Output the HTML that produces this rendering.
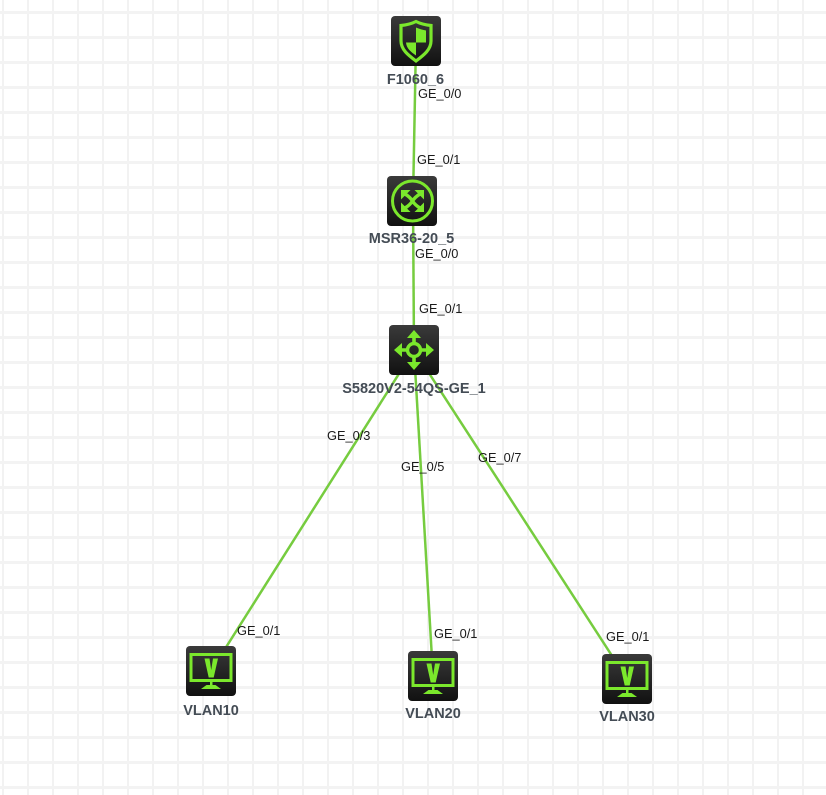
<!DOCTYPE html>
<html>
<head>
<meta charset="utf-8">
<style>
html,body{margin:0;padding:0;background:#fff}
svg{display:block}
.p{font:12.8px "Liberation Sans",Arial,sans-serif;fill:#1a1a1a}
.n{font:bold 14.5px "Liberation Sans",Arial,sans-serif;fill:#444c55;text-anchor:middle}
</style>
</head>
<body>
<svg width="826" height="795" viewBox="0 0 826 795" xmlns="http://www.w3.org/2000/svg">
<defs>
<pattern id="grid" width="25" height="25" patternUnits="userSpaceOnUse">
<rect x="2" y="0" width="2" height="25" fill="#f2f2f2"/>
<rect x="0" y="11" width="25" height="3" fill="#f3f3f3"/>
</pattern>
<linearGradient id="bg" x1="0" y1="0" x2="0" y2="1">
<stop offset="0" stop-color="#3a3a3a"/>
<stop offset="1" stop-color="#111"/>
</linearGradient>
<g id="box"><rect width="50" height="50" rx="4" fill="url(#bg)"/></g>
<g id="vlan">
<use href="#box"/>
<rect x="5" y="8.500" width="40" height="26" fill="none" stroke="#7be82c" stroke-width="3"/>
<path d="M18.500 12.500h5l1.700 11.500 1.800-11.500h5l-4.300 19h-5z" fill="#7be82c"/>
<path d="M24 35h2.500v4h3l5.500 4h-20l5.500-4h3.500z" fill="#7be82c"/>
</g>
<g id="arrow"><path d="M0-20l-7 8h5.200v5h3.600v-5h5.200z" fill="#7be82c"/></g>
</defs>
<rect width="826" height="795" fill="#fff"/>
<rect width="826" height="795" fill="url(#grid)"/>

<g stroke="#76cc3f" stroke-width="2.500" fill="none">
<line x1="416" y1="41" x2="413" y2="201"/>
<line x1="413" y1="201" x2="414" y2="350"/>
<line x1="414" y1="350" x2="211" y2="671"/>
<line x1="414" y1="350" x2="433" y2="676"/>
<line x1="414" y1="350" x2="627" y2="679"/>
</g>

<!-- F1060_6 -->
<g transform="translate(391,16)">
<use href="#box"/>
<path d="M25 5.500c5 2.500 10 3.500 15 4v15.500c0 8.500-7 14-15 20c-8-6-15-11.500-15-20v-15.500c5-.5 10-1.500 15-4z" fill="none" stroke="#7be82c" stroke-width="3.200"/>
<path d="M25 11.500c3.500 1.500 7 2.500 10 3v12h-10zM25 26.500v13c-5-3.500-9.500-7-10-13z" fill="#7be82c"/>
</g>

<!-- MSR36-20_5 -->
<g transform="translate(387,176)">
<use href="#box"/>
<circle cx="25.500" cy="25" r="20" fill="none" stroke="#7be82c" stroke-width="3"/>
<g fill="#7be82c">
<path d="M14 14h9.500l-3 3-3.500 3.500-3 3z"/>
<path d="M37 14h-9.500l3 3 3.500 3.500 3 3z"/>
<path d="M14 36h9.500l-3-3-3.500-3.500-3-3z"/>
<path d="M37 36h-9.500l3-3 3.500-3.500 3-3z"/>
</g>
<g fill="none" stroke="#7be82c" stroke-width="3.400">
<path d="M18 18Q23 21 25.500 25Q28 29 33 32"/>
<path d="M33 18Q28 21 25.500 25Q23 29 18 32"/>
</g>
</g>

<!-- S5820V2 -->
<g transform="translate(389,325)">
<use href="#box"/>
<circle cx="25" cy="25" r="6.500" fill="none" stroke="#7be82c" stroke-width="3.400"/>
<g transform="translate(25,25)">
<use href="#arrow"/>
<g transform="rotate(90)"><use href="#arrow"/></g>
<g transform="rotate(180)"><use href="#arrow"/></g>
<g transform="rotate(270)"><use href="#arrow"/></g>
</g>
</g>

<use href="#vlan" x="186" y="646"/>
<use href="#vlan" x="408" y="651"/>
<use href="#vlan" x="602" y="654"/>

<text class="n" x="415.500" y="84">F1060_6</text>
<text class="n" x="411.500" y="243">MSR36-20_5</text>
<text class="n" x="414" y="393">S5820V2-54QS-GE_1</text>
<text class="n" x="211" y="715">VLAN10</text>
<text class="n" x="433" y="718">VLAN20</text>
<text class="n" x="627" y="721">VLAN30</text>

<text class="p" x="418" y="98">GE_0/0</text>
<text class="p" x="417" y="164">GE_0/1</text>
<text class="p" x="415" y="258">GE_0/0</text>
<text class="p" x="419" y="313">GE_0/1</text>
<text class="p" x="327" y="440">GE_0/3</text>
<text class="p" x="401" y="471">GE_0/5</text>
<text class="p" x="478" y="462">GE_0/7</text>
<text class="p" x="237" y="635">GE_0/1</text>
<text class="p" x="434" y="638">GE_0/1</text>
<text class="p" x="606" y="641">GE_0/1</text>
</svg>
</body>
</html>
